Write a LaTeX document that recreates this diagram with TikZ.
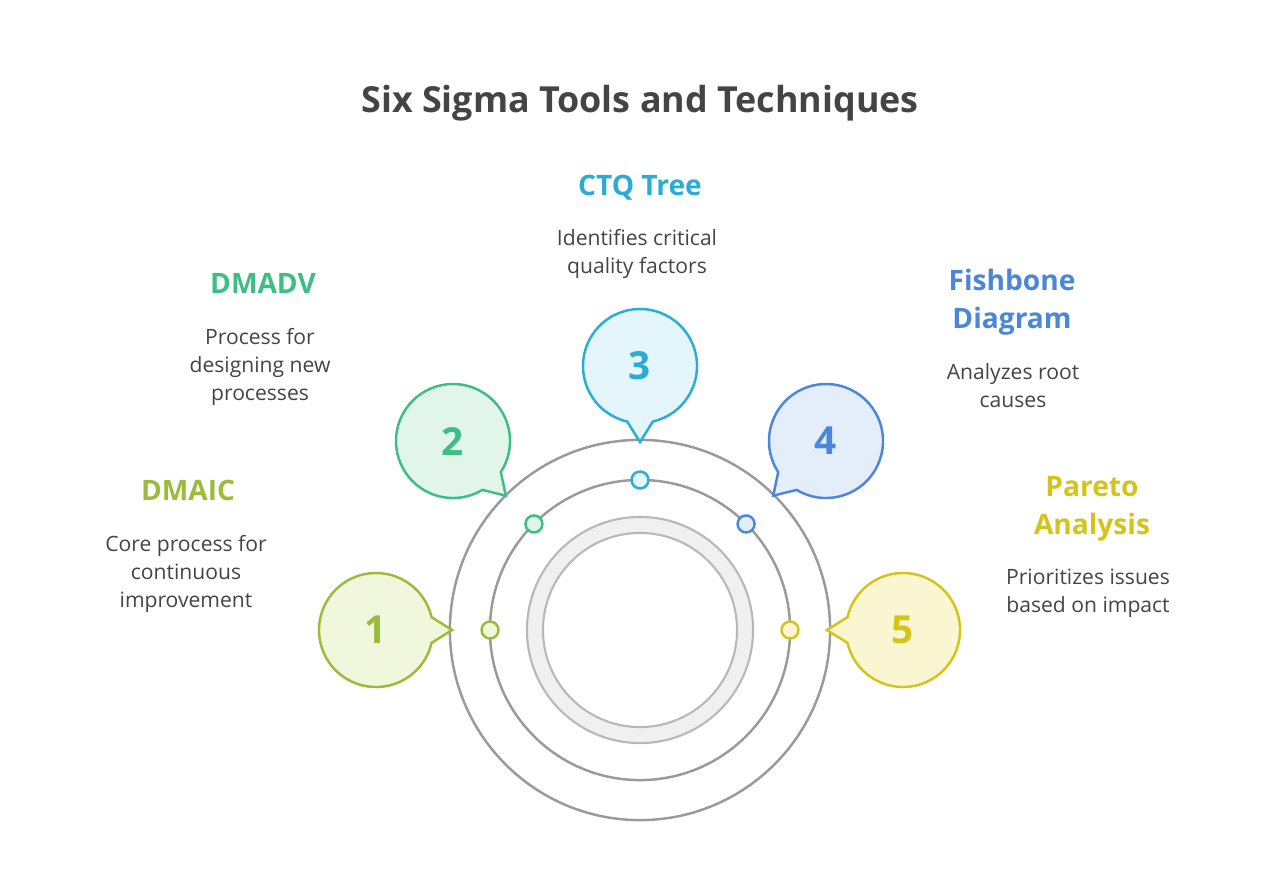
\documentclass[tikz,border=0pt]{standalone}
\usepackage{fontspec}
\setmainfont{Open Sans}
\usepackage{tikz}

\definecolor{txtgray}{HTML}{444444}
\definecolor{ringgray}{HTML}{9A9A9A}
\definecolor{cOne}{HTML}{9BBB3B}
\definecolor{fOne}{HTML}{F1F7DD}
\definecolor{cTwo}{HTML}{3DBE84}
\definecolor{fTwo}{HTML}{E1F5EB}
\definecolor{cThree}{HTML}{2AACD6}
\definecolor{fThree}{HTML}{E4F5FB}
\definecolor{cFour}{HTML}{4A86D9}
\definecolor{fFour}{HTML}{E4EDFA}
\definecolor{cFive}{HTML}{D4C41A}
\definecolor{fFive}{HTML}{FAF6D2}

\tikzset{
  title/.style = {font=\fontsize{10.2}{12}\selectfont\bfseries, text=txtgray},
  label/.style = {font=\fontsize{8}{10.8}\selectfont\bfseries, align=center},
  desc/.style  = {font=\fontsize{6}{8}\selectfont, text=txtgray, align=center},
  num/.style   = {font=\fontsize{11}{12}\selectfont\bfseries},
  ring/.style  = {draw=ringgray, line width=0.7pt},
  dot/.style   = {circle, draw, line width=0.7pt, minimum size=0.17cm, inner sep=0pt}
}

% speech bubble: center, tail angle, colour, fill colour
\newcommand{\bubble}[4]{%
  \draw[#3, fill=#4, line width=0.7pt]
    ($(#1)+(#2+13:0.57cm)$) arc[start angle=#2+13, end angle=#2+347, radius=0.57cm]
    -- ($(#1)+(#2:0.76cm)$) -- cycle;
}
\usetikzlibrary{calc}

\begin{document}
\begin{tikzpicture}[x=0.01cm, y=-0.01cm]
  \useasboundingbox (0,0) rectangle (1280,894);

  % Title
  \node[title] (title) at (640,103) {Six Sigma Tools and Techniques};

  % Rings
  \coordinate (center) at (640,630);
  \draw[ring] (center) circle[radius=1.9cm];
  \draw[ring] (center) circle[radius=1.5cm];
  \draw[draw=ringgray!70, fill=gray!12, line width=0.6pt, even odd rule]
    (center) circle[radius=1.13cm] (center) circle[radius=0.97cm];

  % Dots on the inner ring
  \node[dot, draw=cOne, fill=fOne]     (d1) at ($(center)+(180:150)$) {};
  \node[dot, draw=cTwo, fill=fTwo]     (d2) at ($(center)+(-135:150)$) {};
  \node[dot, draw=cThree, fill=fThree] (d3) at ($(center)+(-90:150)$) {};
  \node[dot, draw=cFour, fill=fFour]   (d4) at ($(center)+(-45:150)$) {};
  \node[dot, draw=cFive, fill=fFive]   (d5) at ($(center)+(0:150)$) {};

  % Bubbles
  \coordinate (b1) at (376,630);
  \coordinate (b2) at (453,441);
  \coordinate (b3) at (640,366);
  \coordinate (b4) at (826,441);
  \coordinate (b5) at (903,630);
  \bubble{b1}{0}{cOne}{fOne}
  \bubble{b2}{-46}{cTwo}{fTwo}
  \bubble{b3}{-90}{cThree}{fThree}
  \bubble{b4}{-134}{cFour}{fFour}
  \bubble{b5}{180}{cFive}{fFive}
  \node[num, text=cOne]   (n1) at (b1) {1};
  \node[num, text=cTwo]   (n2) at (b2) {2};
  \node[num, text=cThree] (n3) at (b3) {3};
  \node[num, text=cFour]  (n4) at (b4) {4};
  \node[num, text=cFive]  (n5) at (b5) {5};

  % Labels and descriptions
  \node[label, text=cOne] (dmaic) at (188,490) {DMAIC};
  \node[desc] (dmaicdesc) at (186,574) {Core process for\\continuous\\improvement};

  \node[label, text=cTwo] (dmadv) at (263,283) {DMADV};
  \node[desc] (dmadvdesc) at (260,367) {Process for\\designing new\\processes};

  \node[label, text=cThree] (ctq) at (640,188) {CTQ Tree};
  \node[desc] (ctqdesc) at (637,254) {Identifies critical\\quality factors};

  \node[label, text=cFour] (fish) at (1012,302) {Fishbone\\Diagram};
  \node[desc] (fishdesc) at (1013,386) {Analyzes root\\causes};

  \node[label, text=cFive] (pareto) at (1092,509) {Pareto\\Analysis};
  \node[desc] (paretodesc) at (1088,593) {Prioritizes issues\\based on impact};
\end{tikzpicture}
\end{document}
